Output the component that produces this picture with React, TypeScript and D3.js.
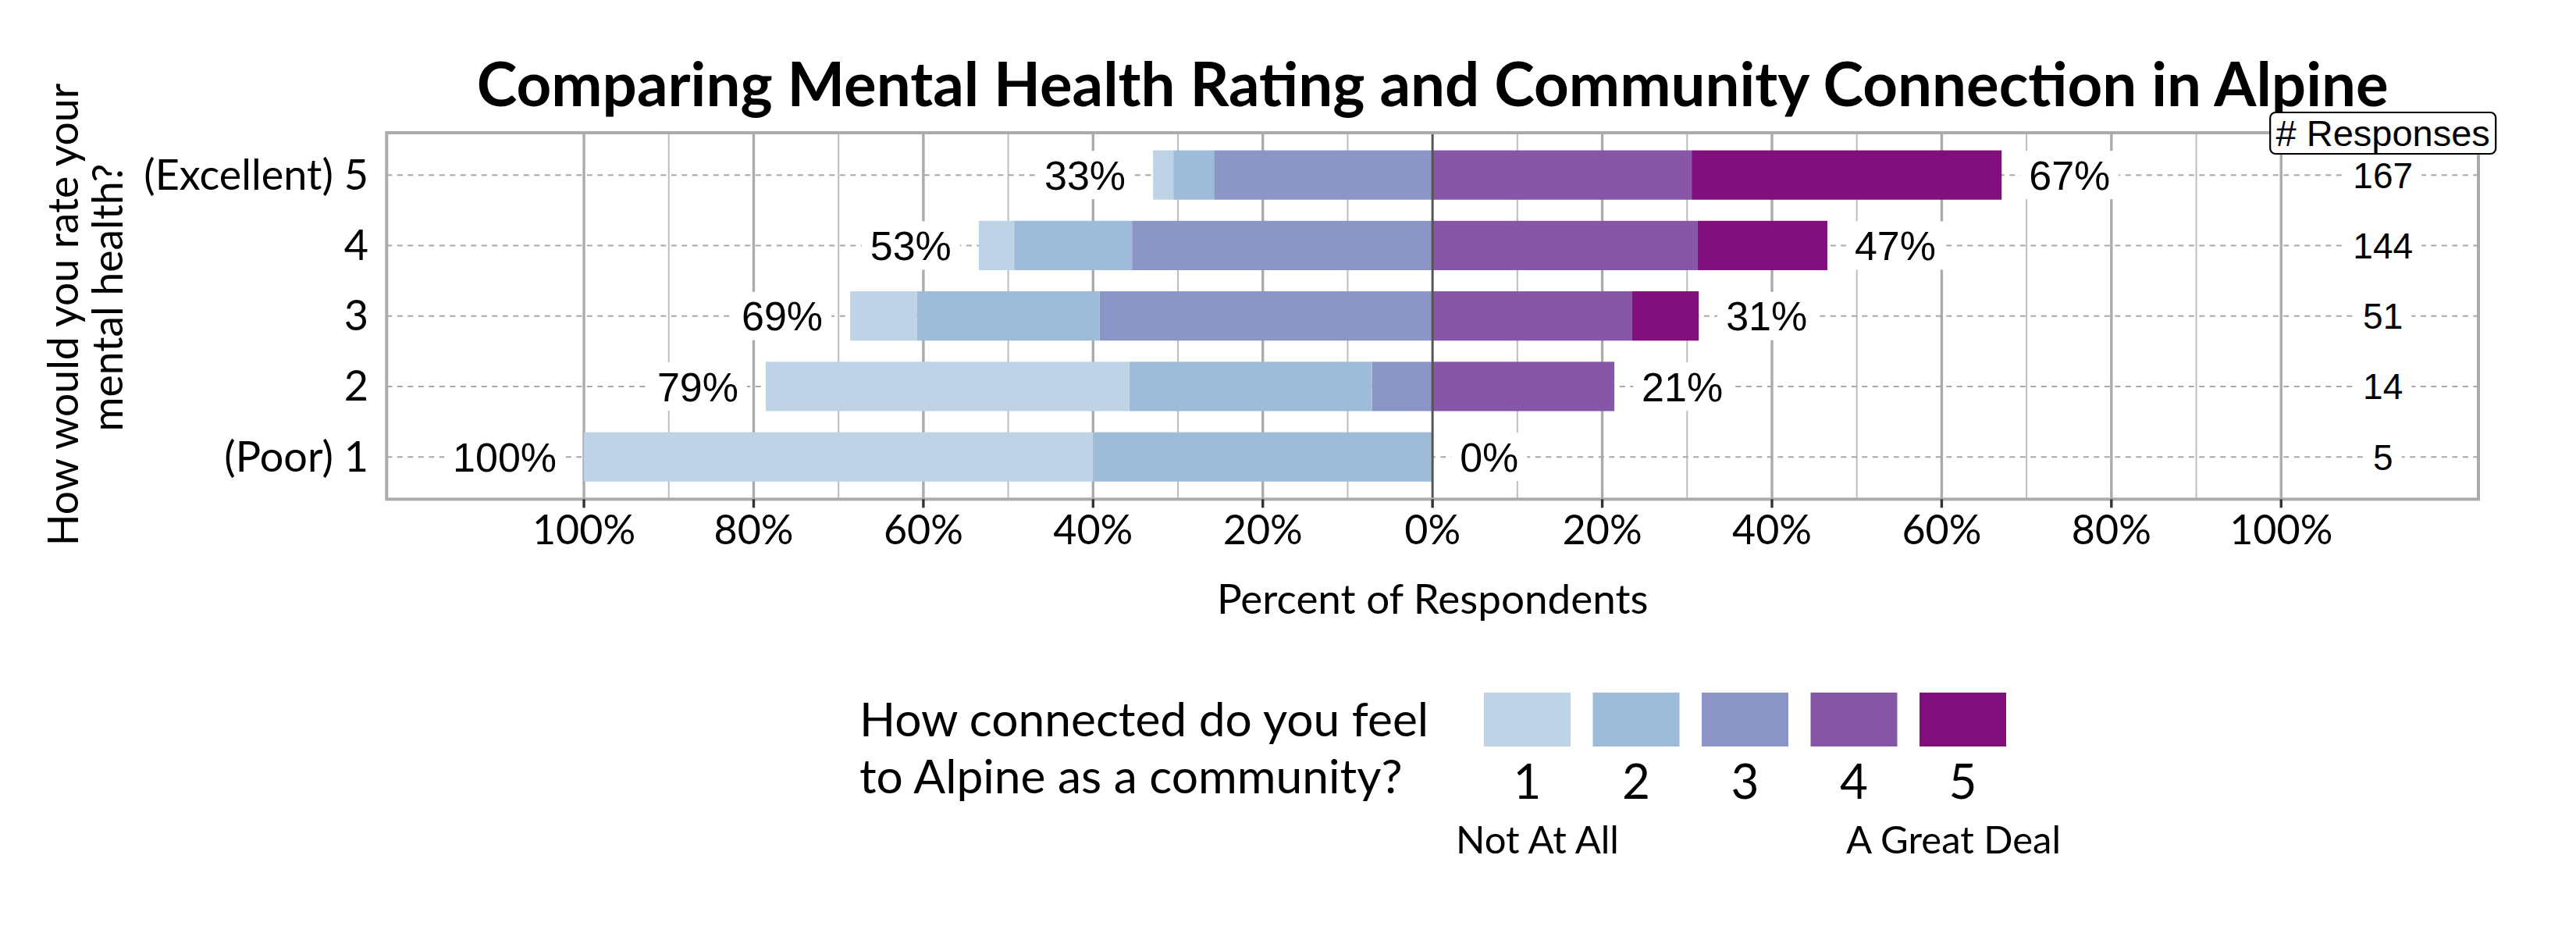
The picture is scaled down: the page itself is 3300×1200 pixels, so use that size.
import React from "react";
import * as d3 from "d3";

// ---- data ----
const ratingValues = [1, 2, 3, 4, 5];
const ratingLabels = ["(Poor) 1", "2", "3", "4", "(Excellent) 5"];
const responses = [5, 14, 51, 144, 167];
// counts per community-connection level, one entry per rating (1..5)
const level1 = [3, 6, 4, 6, 4];
const level2 = [2, 4, 11, 20, 8];
const level3 = [0, 1, 20, 51, 43];
const level4 = [0, 3, 12, 45, 51];
const level5 = [0, 0, 4, 22, 61];
const connectionLevels = ["1", "2", "3", "4", "5"];
const levelColors = ["#bfd3e6", "#9ebcda", "#8c96c6", "#8856a7", "#810f7c"];
const majorTicks = [-1, -0.8, -0.6, -0.4, -0.2, 0, 0.2, 0.4, 0.6, 0.8, 1];
const minorTicks = [-0.9, -0.7, -0.5, -0.3, -0.1, 0.1, 0.3, 0.5, 0.7, 0.9];
const tickLabels = ["100%", "80%", "60%", "40%", "20%", "0%", "20%", "40%", "60%", "80%", "100%"];

const title = "Comparing Mental Health Rating and Community Connection in Alpine";
const yTitle = ["How would you rate your", "mental health?"];
const xTitle = "Percent of Respondents";
const legendTitle = ["How connected do you feel", "to Alpine as a community?"];
const legendEnds = ["Not At All", "A Great Deal"];
const countHeader = "# Responses";
const countX = 1.12;

// ---- layout ----
const W = 3300;
const H = 1200;
const panel = { left: 495.3, right: 3175, top: 170, bottom: 639.3 };
const CAL = "Lato, Carlito, 'Noto Sans', sans-serif";
const ARI = "'Liberation Sans', Arial, sans-serif";

const charW: Record<string, number> = { "%": 0.889 };
function arialWidth(s: string, size: number) {
  let w = 0;
  for (const c of s) w += charW[c] ?? 0.556;
  return w * size;
}

export default function App() {
  const x = d3.scaleLinear().domain([-1.2325, 1.2325]).range([panel.left, panel.right]);
  const y = d3.scaleLinear().domain([0.4, 5.6]).range([panel.bottom, panel.top]);
  const bandH = y(1) - y(1.7);

  const levels = [level1, level2, level3, level4, level5];

  type Seg = { r: number; k: number; x0: number; x1: number };
  const segs: Seg[] = [];
  const leftLabels: { r: number; v: number; end: number }[] = [];
  const rightLabels: { r: number; v: number; end: number }[] = [];
  ratingValues.forEach((r, i) => {
    const n = responses[i];
    const p = levels.map((l) => l[i] / n);
    let acc = 0;
    [2, 1, 0].forEach((k) => {
      segs.push({ r, k, x0: -(acc + p[k]), x1: -acc });
      acc += p[k];
    });
    leftLabels.push({ r, v: Math.round(acc * 100), end: -acc });
    let accR = 0;
    [3, 4].forEach((k) => {
      segs.push({ r, k, x0: accR, x1: accR + p[k] });
      accR += p[k];
    });
    rightLabels.push({ r, v: Math.round(accR * 100), end: accR });
  });

  const labelSize = 52;
  const countSize = 46;
  const gap = 35;
  const pad = 11;
  const boxH = 62;

  const swX0 = 1901;
  const swStep = 139.5;
  const swW = 111;
  const swY = 887;
  const swH = 69;

  return (
    <svg width={W} height={H} style={{ position: "absolute", left: 0, top: 0, background: "#fff" }}>
      <rect x={0} y={0} width={W} height={H} fill="#fff" />
      {/* title */}
      <text x={x(0)} y={136} textAnchor="middle" fontFamily={CAL} fontWeight={700} fontSize={78} fill="#000">
        {title}
      </text>

      {/* gridlines */}
      {minorTicks.map((t) => (
        <line key={"mi" + t} x1={x(t)} x2={x(t)} y1={panel.top} y2={panel.bottom} stroke="#bdbdbd" strokeWidth={2} />
      ))}
      {majorTicks.filter((t) => t !== 0).map((t) => (
        <line key={"ma" + t} x1={x(t)} x2={x(t)} y1={panel.top} y2={panel.bottom} stroke="#ababab" strokeWidth={3.4} />
      ))}
      {ratingValues.map((r) => (
        <line key={"h" + r} x1={panel.left} x2={panel.right} y1={y(r)} y2={y(r)} stroke="#a8a8a8" strokeWidth={2} strokeDasharray="7 6.5" />
      ))}

      {/* bars */}
      {segs.map((s, i) => (
        <rect
          key={"s" + i}
          x={x(s.x0)}
          y={y(s.r) - bandH / 2}
          width={Math.max(0, x(s.x1) - x(s.x0))}
          height={bandH}
          fill={levelColors[s.k]}
        />
      ))}

      {/* zero line */}
      <line x1={x(0)} x2={x(0)} y1={panel.top} y2={panel.bottom} stroke="#555" strokeWidth={3} />

      {/* percent labels */}
      {leftLabels.map((l) => {
        const s = l.v + "%";
        const ax = x(l.end) - gap;
        const w = arialWidth(s, labelSize);
        return (
          <g key={"ll" + l.r}>
            <rect x={ax - w - pad} y={y(l.r) - boxH / 2} width={w + 2 * pad} height={boxH} fill="#fff" />
            <text x={ax} y={y(l.r) + 0.358 * labelSize} textAnchor="end" fontFamily={ARI} fontSize={labelSize} fill="#000">
              {s}
            </text>
          </g>
        );
      })}
      {rightLabels.map((l) => {
        const s = l.v + "%";
        const ax = x(l.end) + gap;
        const w = arialWidth(s, labelSize);
        return (
          <g key={"rl" + l.r}>
            <rect x={ax - pad} y={y(l.r) - boxH / 2} width={w + 2 * pad} height={boxH} fill="#fff" />
            <text x={ax} y={y(l.r) + 0.358 * labelSize} textAnchor="start" fontFamily={ARI} fontSize={labelSize} fill="#000">
              {s}
            </text>
          </g>
        );
      })}

      {/* counts */}
      {ratingValues.map((r, i) => {
        const s = String(responses[i]);
        const w = arialWidth(s, countSize);
        return (
          <g key={"c" + r}>
            <rect x={x(countX) - w / 2 - pad} y={y(r) - 28} width={w + 2 * pad} height={56} fill="#fff" />
            <text x={x(countX)} y={y(r) + 0.358 * countSize} textAnchor="middle" fontFamily={ARI} fontSize={countSize} fill="#000">
              {s}
            </text>
          </g>
        );
      })}

      {/* panel border */}
      <rect
        x={panel.left}
        y={panel.top}
        width={panel.right - panel.left}
        height={panel.bottom - panel.top}
        fill="none"
        stroke="#ababab"
        strokeWidth={4}
      />

      {/* count header */}
      <rect x={x(countX) - 144.5} y={144} width={289} height={53} rx={7} ry={7} fill="#fff" stroke="#000" strokeWidth={2.2} />
      <text x={x(countX)} y={187} textAnchor="middle" fontFamily={ARI} fontSize={47} fill="#000">
        {countHeader}
      </text>

      {/* x ticks */}
      {majorTicks.map((t, i) => (
        <g key={"xt" + i}>
          <line x1={x(t)} x2={x(t)} y1={panel.bottom} y2={panel.bottom + 11} stroke="#333" strokeWidth={3.4} />
          <text x={x(t)} y={696.7} textAnchor="middle" fontFamily={CAL} fontSize={52} fill="#000">
            {tickLabels[i]}
          </text>
        </g>
      ))}

      {/* y labels */}
      {ratingValues.map((r, i) => (
        <text key={"yl" + r} x={472} y={y(r) + 18.5} textAnchor="end" fontFamily={CAL} fontSize={54} fill="#000">
          {ratingLabels[i]}
        </text>
      ))}

      {/* y title */}
      <text transform={`translate(100, 403) rotate(-90)`} textAnchor="middle" fontFamily={CAL} fontSize={53.5} fill="#000">
        {yTitle[0]}
      </text>
      <text transform={`translate(157, 381) rotate(-90)`} textAnchor="middle" fontFamily={CAL} fontSize={53.5} fill="#000">
        {yTitle[1]}
      </text>

      {/* x title */}
      <text x={x(0)} y={786} textAnchor="middle" fontFamily={CAL} fontSize={53} fill="#000">
        {xTitle}
      </text>

      {/* legend */}
      <text x={1101} y={943} fontFamily={CAL} fontSize={60.5} fill="#000">
        {legendTitle[0]}
      </text>
      <text x={1101} y={1016} fontFamily={CAL} fontSize={60.5} fill="#000">
        {legendTitle[1]}
      </text>
      {connectionLevels.map((c, i) => (
        <g key={"lg" + c}>
          <rect x={swX0 + i * swStep} y={swY} width={swW} height={swH} fill={levelColors[i]} />
          <text x={swX0 + i * swStep + swW / 2} y={1023} textAnchor="middle" fontFamily={CAL} fontSize={62} fill="#000">
            {c}
          </text>
        </g>
      ))}
      <text x={swX0 + swW / 2 + 13} y={1093} textAnchor="middle" fontFamily={CAL} fontSize={49} fill="#000">
        {legendEnds[0]}
      </text>
      <text x={swX0 + 4 * swStep + swW / 2 - 12} y={1093} textAnchor="middle" fontFamily={CAL} fontSize={49} fill="#000">
        {legendEnds[1]}
      </text>
    </svg>
  );
}
